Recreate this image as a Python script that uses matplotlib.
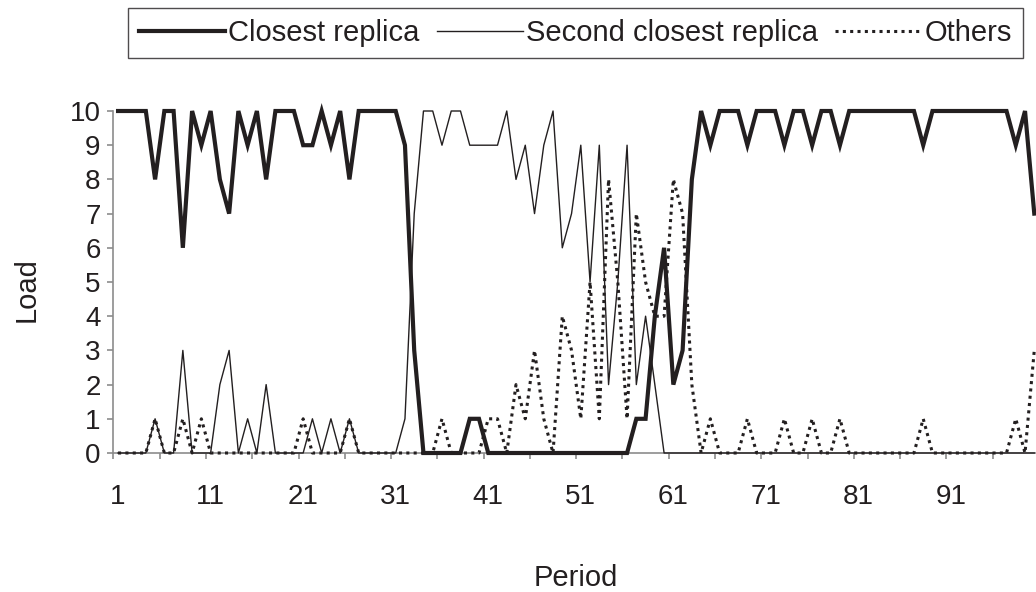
import matplotlib
matplotlib.use("Agg")
import matplotlib.pyplot as plt

plt.rcParams['font.family'] = ['Liberation Sans', 'DejaVu Sans']

# load per period
periods = list(range(1, 101))
closest = [10, 10, 10, 10, 8, 10, 10, 6, 10, 9,
           10, 8, 7, 10, 9, 10, 8, 10, 10, 10,
           9, 9, 10, 9, 10, 8, 10, 10, 10, 10,
           10, 9, 3, 0, 0, 0, 0, 0, 1, 1,
           0, 0, 0, 0, 0, 0, 0, 0, 0, 0,
           0, 0, 0, 0, 0, 0, 1, 1, 4, 6,
           2, 3, 8, 10, 9, 10, 10, 10, 9, 10,
           10, 10, 9, 10, 10, 9, 10, 10, 9, 10,
           10, 10, 10, 10, 10, 10, 10, 9, 10, 10,
           10, 10, 10, 10, 10, 10, 10, 9, 10, 7]
second = [0, 0, 0, 0, 1, 0, 0, 3, 0, 0,
          0, 2, 3, 0, 1, 0, 2, 0, 0, 0,
          0, 1, 0, 1, 0, 1, 0, 0, 0, 0,
          0, 1, 7, 10, 10, 9, 10, 10, 9, 9,
          9, 9, 10, 8, 9, 7, 9, 10, 6, 7,
          9, 5, 9, 2, 5, 9, 2, 4, 2, 0,
          0, 0, 0, 0, 0, 0, 0, 0, 0, 0,
          0, 0, 0, 0, 0, 0, 0, 0, 0, 0,
          0, 0, 0, 0, 0, 0, 0, 0, 0, 0,
          0, 0, 0, 0, 0, 0, 0, 0, 0, 0]
others = [0, 0, 0, 0, 1, 0, 0, 1, 0, 1,
          0, 0, 0, 0, 0, 0, 0, 0, 0, 0,
          1, 0, 0, 0, 0, 1, 0, 0, 0, 0,
          0, 0, 0, 0, 0, 1, 0, 0, 0, 0,
          1, 1, 0, 2, 1, 3, 1, 0, 4, 3,
          1, 5, 1, 8, 5, 1, 7, 5, 4, 4,
          8, 7, 2, 0, 1, 0, 0, 0, 1, 0,
          0, 0, 1, 0, 0, 1, 0, 0, 1, 0,
          0, 0, 0, 0, 0, 0, 0, 1, 0, 0,
          0, 0, 0, 0, 0, 0, 0, 1, 0, 3]

ink = '#231f20'
grey = '#8c8c8c'

fig = plt.figure(figsize=(10.36, 5.92), dpi=100)
ax = fig.add_axes([0.1095, 0.2348, 0.8933, 0.5777])

ax.plot(periods, closest, color=ink, lw=3.0, label='Closest replica',
        solid_joinstyle='miter', clip_on=False, zorder=3)
ax.plot(periods, second, color=ink, lw=1.0, label='Second closest replica',
        clip_on=False, zorder=4)
ax.plot(periods, others, color=ink, lw=2.2, dashes=(1, 1.4),
        label='Others', clip_on=False, zorder=5)

ax.set_xlim(0.5, 100.5)
ax.set_ylim(0, 10)

for s in ['top', 'right']:
    ax.spines[s].set_visible(False)
for s in ['left', 'bottom']:
    ax.spines[s].set_color(grey)
    ax.spines[s].set_linewidth(1.2)

ax.set_yticks(range(0, 11))
ax.tick_params(axis='y', direction='out', length=4.3, width=1.2,
               color=grey, pad=5, labelsize=20, labelcolor=ink)
ax.set_xticks(range(1, 101, 10))
ax.set_xticks([0.5 + 5 * i for i in range(21)], minor=True)
ax.tick_params(axis='x', which='major', length=0, pad=22,
               labelsize=20, labelcolor=ink)
ax.tick_params(axis='x', which='minor', direction='out', length=4.3,
               width=1.2, color=grey)

ax.set_xlabel('Period', fontsize=21, color=ink)
ax.xaxis.set_label_coords(0.5, -0.365)
ax.xaxis.label.set_va('center')
ax.set_ylabel('Load', fontsize=21, color=ink)
ax.yaxis.set_label_coords(-0.0934, 0.477)
ax.yaxis.label.set_va('center')

leg = fig.legend(loc='upper left', bbox_to_anchor=(128 / 1036, 1 - 8 / 592),
                 ncol=3, fontsize=21, frameon=True, fancybox=False,
                 handlelength=2.95, handletextpad=0.1, columnspacing=0.6,
                 borderpad=0.38, borderaxespad=0)
leg.get_frame().set_edgecolor(ink)
leg.get_frame().set_linewidth(1.0)
for t in leg.get_texts():
    t.set_color(ink)

fig.savefig('out.png', dpi=100)
